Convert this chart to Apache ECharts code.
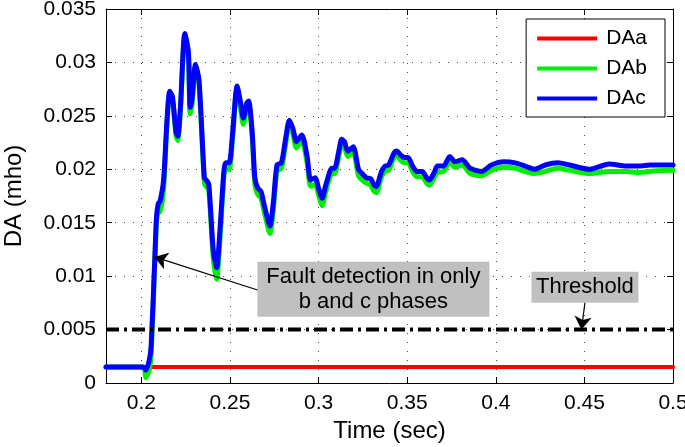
<!DOCTYPE html>
<html>
<head>
<meta charset="utf-8">
<script src="https://cdn.jsdelivr.net/npm/echarts@6/dist/echarts.min.js"></script>
<style>
html, body { margin: 0; padding: 0; background: #fff; }
#main { width: 685px; height: 447px; }
</style>
</head>
<body>
<div id="main"></div>
<script>
// time (sec)
var time = [
	0.18, 0.201, 0.2025, 0.2045, 0.2055, 0.2075, 0.2085, 0.2095, 0.2105, 0.2125,
	0.2145, 0.216, 0.2175, 0.2195, 0.2205, 0.222, 0.2245, 0.2265, 0.2275, 0.2285,
	0.2305, 0.2325, 0.2355, 0.2365, 0.238, 0.2405, 0.2425, 0.244, 0.2465, 0.2475,
	0.2495, 0.2515, 0.254, 0.256, 0.2575, 0.2595, 0.2605, 0.2625, 0.264, 0.2655,
	0.2675, 0.2695, 0.2725, 0.2745, 0.2765, 0.279, 0.2815, 0.2835, 0.2855, 0.2875,
	0.2905, 0.2935, 0.2955, 0.298, 0.3, 0.302, 0.304, 0.3075, 0.309, 0.3115,
	0.313, 0.3145, 0.3165, 0.3195, 0.3225, 0.3245, 0.327, 0.3295, 0.331, 0.3325,
	0.3355, 0.3375, 0.3395, 0.3425, 0.344, 0.3465, 0.3485, 0.3505, 0.353, 0.3555,
	0.3585, 0.361, 0.3625, 0.3655, 0.367, 0.3705, 0.374, 0.377, 0.381, 0.3855,
	0.392, 0.3975, 0.4045, 0.411, 0.4165, 0.422, 0.428, 0.435, 0.4415, 0.453,
	0.464, 0.4735, 0.481, 0.487, 0.5
];
// DAc (blue)
var daC = [
	0.0015, 0.0015, 0.0012, 0.0022, 0.0035, 0.0115, 0.0155, 0.0168, 0.0170, 0.0190,
	0.0248, 0.0273, 0.0268, 0.0235, 0.0231, 0.0258, 0.0327, 0.0310, 0.0258, 0.0265,
	0.0298, 0.0283, 0.0192, 0.0190, 0.0186, 0.0125, 0.0108, 0.0135, 0.0198, 0.0206,
	0.0206, 0.0235, 0.0278, 0.0262, 0.0248, 0.0262, 0.0264, 0.0235, 0.0192, 0.0183,
	0.0179, 0.0165, 0.0147, 0.0170, 0.0204, 0.0206, 0.0230, 0.0246, 0.0238, 0.0226,
	0.0232, 0.0212, 0.0190, 0.0192, 0.0182, 0.0173, 0.0185, 0.0201, 0.0201, 0.0218,
	0.0228, 0.0226, 0.0217, 0.0221, 0.0200, 0.0196, 0.0192, 0.0191, 0.0186, 0.0184,
	0.0198, 0.0203, 0.0204, 0.0215, 0.0217, 0.0213, 0.0211, 0.0211, 0.0203, 0.0198,
	0.0198, 0.0192, 0.0190, 0.0198, 0.0203, 0.0203, 0.0212, 0.0207, 0.0209, 0.0201,
	0.0198, 0.0204, 0.0207, 0.0206, 0.0203, 0.0200, 0.0204, 0.0206, 0.0204, 0.0200,
	0.0205, 0.0203, 0.0203, 0.0204, 0.0204
];
// DAb (green)
var daB = [
	0.0015, 0.0015, 0.0005, 0.0013, 0.0028, 0.0110, 0.0150, 0.0162, 0.0160, 0.0182,
	0.0245, 0.0271, 0.0265, 0.0232, 0.0227, 0.0255, 0.0326, 0.0306, 0.0252, 0.0260,
	0.0296, 0.0280, 0.0187, 0.0184, 0.0181, 0.0118, 0.0097, 0.0127, 0.0192, 0.0200,
	0.0200, 0.0230, 0.0276, 0.0256, 0.0242, 0.0258, 0.0261, 0.0230, 0.0186, 0.0177,
	0.0173, 0.0159, 0.0140, 0.0163, 0.0198, 0.0201, 0.0225, 0.0243, 0.0233, 0.0220,
	0.0227, 0.0206, 0.0184, 0.0186, 0.0176, 0.0166, 0.0179, 0.0196, 0.0196, 0.0213,
	0.0224, 0.0221, 0.0212, 0.0216, 0.0194, 0.0190, 0.0187, 0.0185, 0.0180, 0.0178,
	0.0193, 0.0198, 0.0199, 0.0211, 0.0213, 0.0208, 0.0206, 0.0206, 0.0198, 0.0193,
	0.0193, 0.0187, 0.0185, 0.0193, 0.0197, 0.0198, 0.0207, 0.0202, 0.0204, 0.0196,
	0.0194, 0.0199, 0.0202, 0.0201, 0.0198, 0.0196, 0.0198, 0.0201, 0.0199, 0.0196,
	0.0198, 0.0198, 0.0197, 0.0198, 0.0199
];
// DAa (red) stays flat
var timeA = [0.18, 0.2075, 0.5];
var daA = [0.0015, 0.0015, 0.0015];
// threshold line
var thrTime = [0.18, 0.5];
var thrValue = [0.005, 0.005];

var xTicks = [0.2, 0.25, 0.3, 0.35, 0.4, 0.45, 0.5];
var seriesNames = ["DAa", "DAb", "DAc"];

// annotation anchors (data coords)
var faultNote = [0.3309, 0.00878];
var thrNote = [0.4503, 0.00896];
var faultArrow = [[0.2655, 0.0087], [0.2073, 0.0118]];
var thrArrow = [[0.4503, 0.0075], [0.4483, 0.0050]];

var FONT = '"Liberation Sans", Arial, sans-serif';

function pairs(xs, ys) {
	return xs.map(function (x, i) { return [x, ys[i]]; });
}

var chart = echarts.init(document.getElementById("main"));

function lineSeries(name, xs, ys, color, width) {
	return {
		name: name,
		type: "line",
		data: pairs(xs, ys),
		showSymbol: false,
		smooth: 0.25,
		lineStyle: { color: color, width: width, cap: "round", join: "round" },
		itemStyle: { color: color },
		emphasis: { disabled: true },
	};
}

var option = {
	animation: false,
	textStyle: { fontFamily: FONT },
	grid: { left: 106, right: 12, top: 9, bottom: 64, containLabel: false, outerBoundsMode: "none" },
	legend: {
		data: seriesNames,
		orient: "vertical",
		right: 20,
		top: 19,
		backgroundColor: "#fff",
		borderColor: "#000",
		borderWidth: 1,
		borderRadius: 0,
		padding: [9, 18, 8, 11],
		itemGap: 9,
		itemWidth: 60,
		itemHeight: 4,
		icon: "rect",
		textStyle: { fontSize: 21, color: "#000", fontFamily: FONT, padding: [0, 0, 0, 4] },
	},
	xAxis: [
		{
			type: "value",
			min: 0.18,
			max: 0.5,
			position: "bottom",
			name: "Time (sec)",
			nameLocation: "middle",
			nameGap: 36,
			nameTextStyle: { fontSize: 24, color: "#000", fontFamily: FONT },
			axisLine: { show: true, onZero: false, lineStyle: { color: "#000", width: 1 } },
			axisTick: { show: true, inside: true, length: 6, customValues: xTicks, lineStyle: { color: "#000" } },
			axisLabel: { customValues: xTicks, color: "#000", fontSize: 21, margin: 10, fontFamily: FONT, hideOverlap: false },
			splitLine: { show: true, lineStyle: { color: "#444", width: 1, type: [1, 8] } },
		},
		{
			type: "value",
			min: 0.18,
			max: 0.5,
			position: "top",
			axisLine: { show: true, onZero: false, lineStyle: { color: "#000", width: 1 } },
			axisTick: { show: true, inside: true, length: 6, customValues: xTicks, lineStyle: { color: "#000" } },
			axisLabel: { show: false },
			splitLine: { show: false },
		},
	],
	yAxis: [
		{
			type: "value",
			min: 0,
			max: 0.035,
			interval: 0.005,
			position: "left",
			name: "DA (mho)",
			nameLocation: "middle",
			nameGap: 80,
			nameTextStyle: { fontSize: 24, color: "#000", fontFamily: FONT },
			axisLine: { show: true, onZero: false, lineStyle: { color: "#000", width: 1 } },
			axisTick: { show: true, inside: true, length: 6, lineStyle: { color: "#000" } },
			axisLabel: { color: "#000", fontSize: 21, margin: 10, fontFamily: FONT },
			splitLine: { show: true, lineStyle: { color: "#444", width: 1, type: [1, 8] } },
		},
		{
			type: "value",
			min: 0,
			max: 0.035,
			interval: 0.005,
			position: "right",
			axisLine: { show: true, onZero: false, lineStyle: { color: "#000", width: 1 } },
			axisTick: { show: true, inside: true, length: 6, lineStyle: { color: "#000" } },
			axisLabel: { show: false },
			splitLine: { show: false },
		},
	],
	series: [
		lineSeries("DAa", timeA, daA, "#ff0000", 4),
		lineSeries("DAb", time, daB, "#00ee00", 5),
		lineSeries("DAc", time, daC, "#0000ff", 5),
		{
			name: "Threshold",
			type: "line",
			data: pairs(thrTime, thrValue),
			showSymbol: false,
			lineStyle: { color: "#000", width: 4, type: [13, 5, 3, 5] },
			emphasis: { disabled: true },
			markLine: {
				silent: true,
				symbol: ["none", "arrow"],
				symbolSize: 13,
				label: { show: false },
				lineStyle: { color: "#000", width: 1.2, type: "solid" },
				data: [
					[{ coord: faultArrow[0] }, { coord: faultArrow[1] }],
					[{ coord: thrArrow[0] }, { coord: thrArrow[1] }],
				],
			},
		},
	],
};
chart.setOption(option);

// note boxes placed from data anchors
function noteBox(anchor, w, h, text) {
	var p = chart.convertToPixel({ xAxisIndex: 0, yAxisIndex: 0 }, anchor);
	return {
		type: "group",
		x: p[0] - w / 2,
		y: p[1] - h / 2,
		z: 10,
		children: [
			{ type: "rect", shape: { x: 0, y: 0, width: w, height: h }, style: { fill: "#c0c0c0" } },
			{
				type: "text",
				x: w / 2,
				y: h / 2,
				style: {
					text: text,
					fill: "#000",
					fontSize: 22,
					fontFamily: FONT,
					lineHeight: 25,
					align: "center",
					verticalAlign: "middle",
				},
			},
		],
	};
}

chart.setOption({
	graphic: [
		noteBox(faultNote, 232, 55, "Fault detection in only\nb and c phases"),
		noteBox(thrNote, 107, 31, "Threshold"),
	],
});
</script>
</body>
</html>
